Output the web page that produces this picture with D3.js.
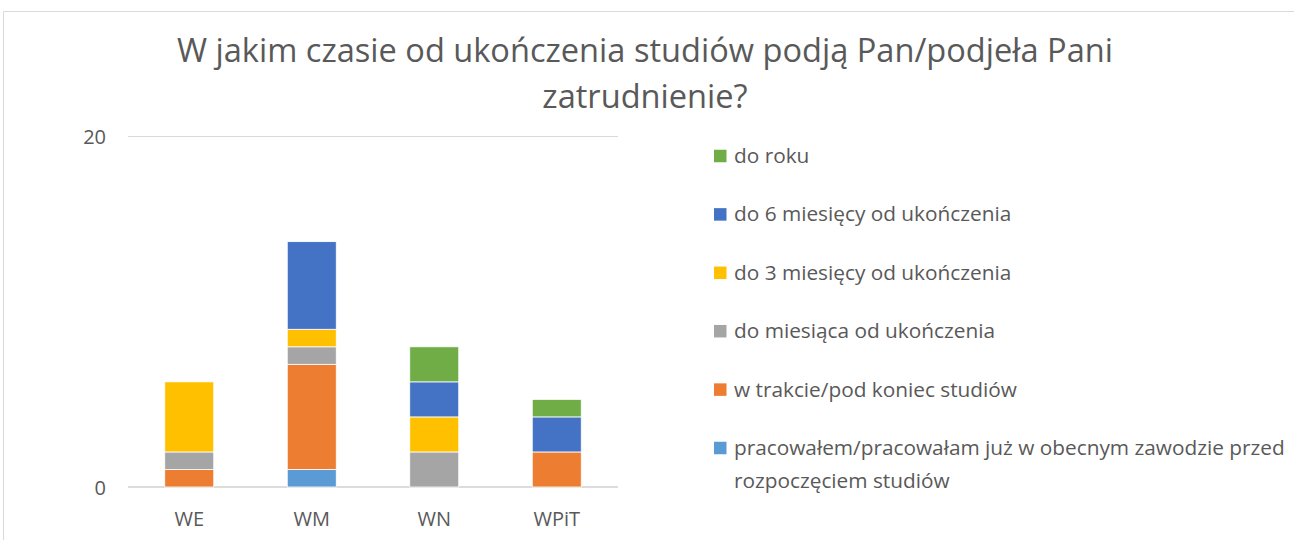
<!DOCTYPE html>
<html><head><meta charset="utf-8">
<script src="https://cdn.jsdelivr.net/npm/d3@7"></script>
<style>body{margin:0;background:#fff;} svg{display:block;font-family:"Open Sans",Lato,sans-serif;}</style>
</head><body>
<svg id="c" width="1294" height="540"></svg>
<script>
const categories = ["WE","WM","WN","WPiT"];
const seriesNames = [
  "pracowałem/pracowałam już w obecnym zawodzie przed rozpoczęciem studiów",
  "w trakcie/pod koniec studiów",
  "do miesiąca od ukończenia",
  "do 3 miesięcy od ukończenia",
  "do 6 miesięcy od ukończenia",
  "do roku"
];
const prior    = [0,1,0,0];
const during   = [1,6,0,2];
const month1   = [1,1,2,0];
const month3   = [4,1,2,0];
const month6   = [0,5,2,2];
const year1    = [0,0,2,1];
const yTicks = [0,20];
const colors = ["#5B9BD5","#ED7D31","#A5A5A5","#FFC000","#4472C4","#70AD47"];
const titleLines = ["W jakim czasie od ukończenia studiów podją Pan/podjeła Pani","zatrudnienie?"];

const values = [prior,during,month1,month3,month6,year1];
const rows = categories.map((c,i)=>{const o={cat:c}; seriesNames.forEach((s,k)=>o[s]=values[k][i]); return o;});
const stack = d3.stack().keys(seriesNames)(rows);

const svg = d3.select("#c");
// chart border
svg.append("path").attr("d","M3.5,540 V11.5 H1294").attr("fill","none").attr("stroke","#D9D9D9").attr("stroke-width",1);

const x = d3.scaleBand().domain(categories).range([128,618]).paddingInner(0.6).paddingOuter(0.3);
const y = d3.scaleLinear().domain([0,20]).range([487,136.5]);

// gridlines
svg.append("g").selectAll("line").data(yTicks).join("line")
  .attr("x1",128).attr("x2",618).attr("y1",d=>y(d)).attr("y2",d=>y(d))
  .attr("stroke",d=>d===0?"#D0D0D0":"#D9D9D9").attr("stroke-width",d=>d===0?1.6:1.2);

// y labels
svg.append("g").selectAll("text").data(yTicks).join("text")
  .attr("x",106).attr("y",d=>y(d)+7.5).attr("text-anchor","end")
  .attr("font-size",20).attr("fill","#595959").text(d=>d);

// bars
svg.append("g").selectAll("g").data(stack).join("g").attr("fill",(d,i)=>colors[i])
  .selectAll("rect").data(d=>d).join("rect")
  .attr("x",d=>x(d.data.cat)).attr("width",x.bandwidth())
  .attr("y",d=>y(d[1])).attr("height",d=>y(d[0])-y(d[1]))
  .attr("stroke","#fff").attr("stroke-width",d=>d[1]>d[0]?0.8:0);

// x labels
svg.append("g").selectAll("text").data(categories).join("text")
  .attr("x",d=>x(d)+x.bandwidth()/2).attr("y",526).attr("text-anchor","middle")
  .attr("font-size",20).attr("fill","#595959").text(d=>d);

// title
svg.append("g").selectAll("text").data(titleLines).join("text")
  .attr("x",645).attr("y",(d,i)=>62+i*46).attr("text-anchor","middle")
  .attr("font-size",32.6).attr("fill","#595959").text(d=>d);

// legend
const legendOrder = seriesNames.map((s,i)=>i).reverse();
const lg = svg.append("g");
legendOrder.forEach((k,j)=>{
  const cy = 156 + j*58.4;
  lg.append("rect").attr("x",714).attr("y",cy-6.25).attr("width",12.5).attr("height",12.5).attr("fill",colors[k]);
  const t = lg.append("text").attr("x",734).attr("y",cy+7).attr("font-size",20.8).attr("fill","#595959");
  if (k===0){
    t.append("tspan").attr("x",734).text("pracowałem/pracowałam już w obecnym zawodzie przed");
    t.append("tspan").attr("x",734).attr("dy",33).text("rozpoczęciem studiów");
  } else t.text(seriesNames[k]);
});
</script>
</body></html>
